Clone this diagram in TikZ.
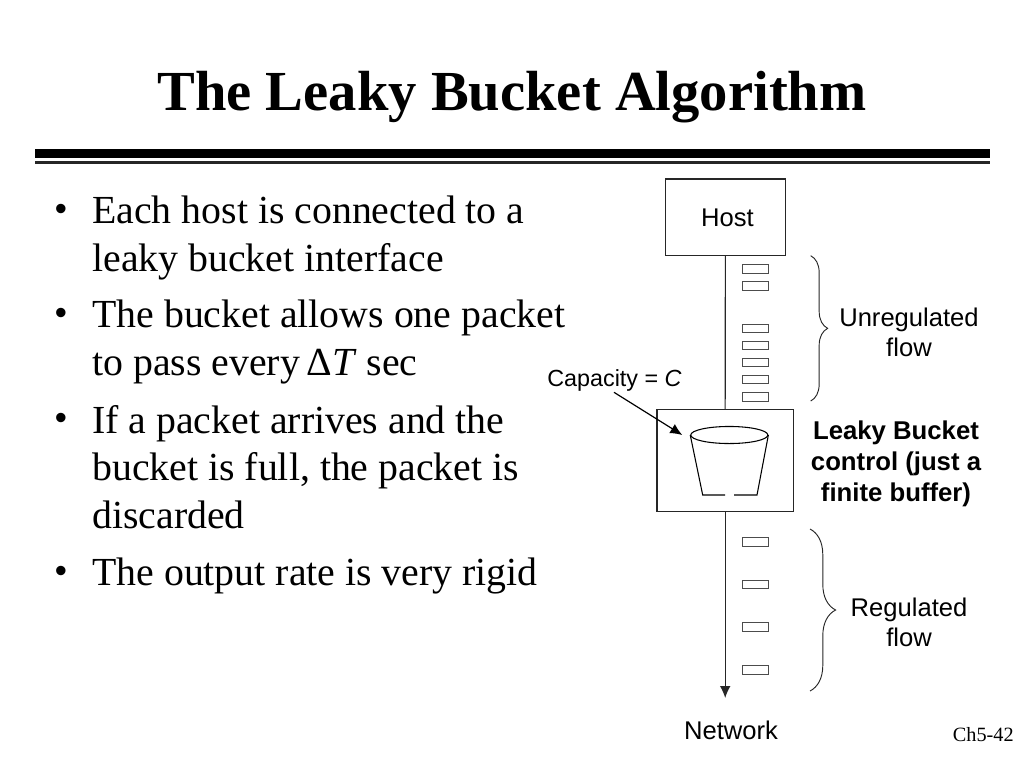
\documentclass[tikz,border=0pt]{standalone}
\usepackage{fontspec}
\setmainfont{Liberation Serif}
\setsansfont{Liberation Sans}
\usetikzlibrary{shapes.geometric,decorations.pathreplacing,arrows.meta}
\tikzset{
	bullettext/.style={font=\fontsize{29.85}{35.7}\selectfont, align=left, anchor=north west, inner sep=0pt},
	bulletdot/.style={font=\sffamily\fontsize{26}{35.7}\selectfont, anchor=base west, inner sep=0pt},
	label/.style={font=\sffamily\fontsize{19.2}{23}\selectfont, align=center, inner sep=0pt},
	boldlabel/.style={font=\sffamily\bfseries\fontsize{19.3}{23.5}\selectfont, align=center, inner sep=0pt},
	box/.style={draw=black!85, line width=0.8pt, inner sep=0pt},
	packet/.style={draw=black!70, line width=0.7pt, minimum width=19.5pt, minimum height=6.5pt, inner sep=0pt},
	wire/.style={draw=black!85, line width=0.8pt},
	arrowline/.style={wire, -{Latex[length=9pt,width=8pt]}},
}
\begin{document}
\begin{tikzpicture}[x=0.75pt,y=-0.75pt]
	\useasboundingbox (0,0) rectangle (1024,768);
	\node[font=\bfseries\fontsize{42.45}{50}\selectfont, inner sep=0pt] (title) at (512,97) {The Leaky Bucket Algorithm};
	\fill (35,149) rectangle (990,157.5);
	\fill[black!85] (35,160.5) rectangle (990,163.5);
	\foreach \y/\t in {196/{Each host is connected to a\\leaky bucket interface},
		300/{The bucket allows one packet\\to pass every\hspace{-2.5pt} Δ\textit{T} sec},
		405/{If a packet arrives and the\\bucket is full, the packet is\\discarded},
		558/{The output rate is very rigid}}
	{
		\node[bulletdot] at (54.5,\y+24.5) {•};
		\node[bullettext] at (92,\y) {\t};
	}
	\node[box, minimum width=90pt, minimum height=57.5pt] (host) at (725.3,217.3) {};
	\node[label] (hostlabel) at (727.5,218) {Host};
	\node[box, minimum width=102.3pt, minimum height=76.5pt] (lbox) at (725.2,460.7) {};
	\coordinate (net) at (725.2,698);
	\draw[wire] (host.south) -- (lbox.north);
	\draw[arrowline] (lbox.south) -- (net);
	\foreach \n/\y in {a/269,b/285.8,c/328.3,d/345.3,e/362.3,f/379.3,g/396.7,h/541.7,i/584.3,j/627,k/670}
		\node[packet] (p\n) at (755.2,\y) {};
	\node[draw=black, line width=0.8pt, ellipse, minimum width=57.8pt, minimum height=12.8pt, inner sep=0pt] (bucket) at (729.3,435) {};
	\coordinate (bl) at (702.7,495);
	\coordinate (gl) at (725,495);
	\coordinate (gr) at (734,495);
	\coordinate (br) at (757,495);
	\draw[line width=0.8pt] (bucket.west) -- (bl) -- (gl);
	\draw[line width=0.8pt] (bucket.east) -- (br) -- (gr);
	\node[label, font=\sffamily\fontsize{17.5}{23}\selectfont] (cap) at (614.5,380) {Capacity = \textit{C}};
	\coordinate (capfrom) at (614,392.3);
	\coordinate (capto) at (682.3,435);
	\draw[line width=0.9pt, -{Latex[length=9pt,width=8pt]}] (capfrom) -- (capto);
	\coordinate (ut) at (810.7,255.7);
	\coordinate (ub) at (810.7,401);
	\coordinate (rt) at (810,529);
	\coordinate (rb) at (810,691);
	\draw[black!85, line width=0.7pt, decorate, decoration={brace, amplitude=12.7pt}] (ut) -- (ub);
	\draw[black!85, line width=0.7pt, decorate, decoration={brace, amplitude=19.2pt}] (rt) -- (rb);
	\node[label] (unreg) at (909,332.5) {Unregulated\\flow};
	\node[label] (reg) at (909,622.5) {Regulated\\flow};
	\node[boldlabel] (lbctl) at (896,464) {Leaky Bucket\\control (just a\\finite buffer)};
	\node[label] (network) at (731,730) {Network};
	\node[font=\fontsize{15.2}{16}\selectfont, anchor=base east, inner sep=0pt] (page) at (1014,741) {Ch5-42};
\end{tikzpicture}
\end{document}
